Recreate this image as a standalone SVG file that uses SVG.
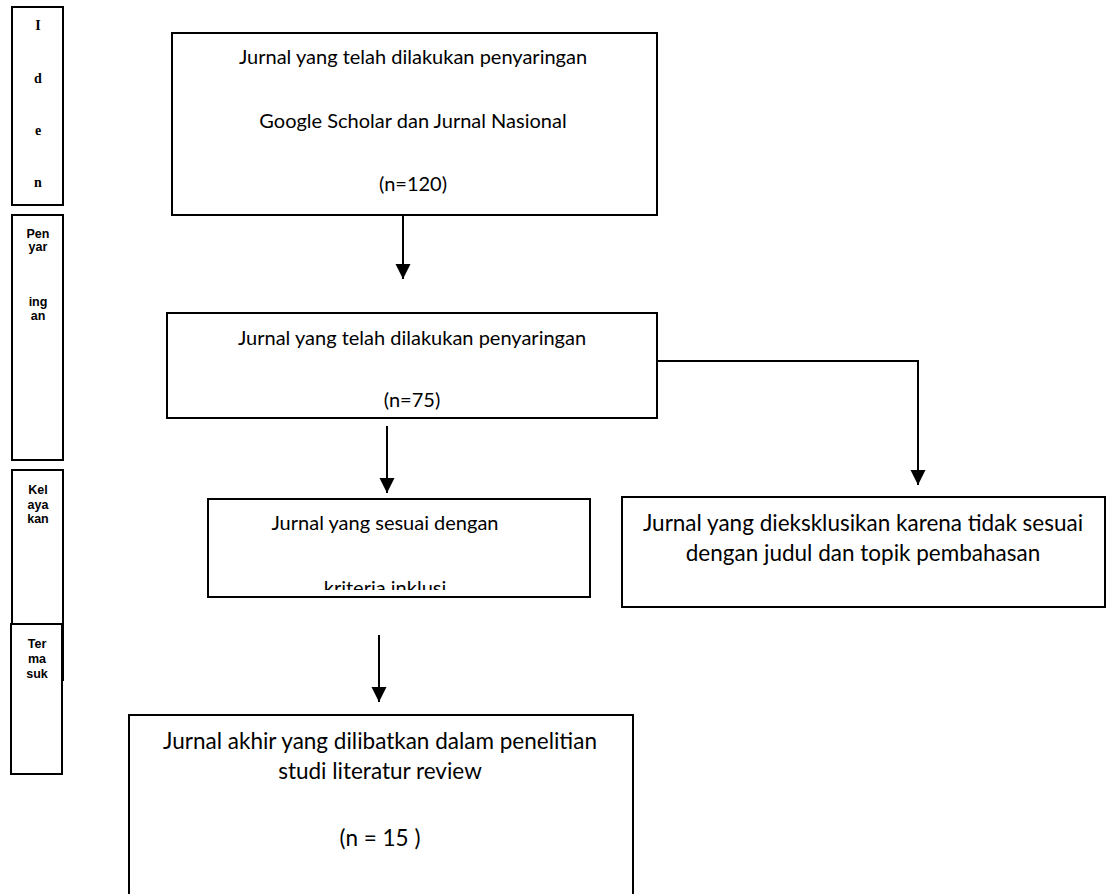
<svg xmlns="http://www.w3.org/2000/svg" width="1111" height="894" viewBox="0 0 1111 894">
<style>
.box{fill:#fff;stroke:#000;stroke-width:2}
.t{font-family:Lato,"Open Sans",sans-serif;font-size:20px;fill:#000;text-anchor:middle}
.t2{font-family:Lato,"Open Sans",sans-serif;font-size:22.5px;fill:#000;text-anchor:middle}
.side{font-family:"Liberation Serif",serif;font-weight:bold;font-size:14px;text-anchor:middle}
.sides{font-family:"Liberation Sans",Arial,sans-serif;font-weight:bold;font-size:12.5px;text-anchor:middle}
.ln{fill:none;stroke:#000;stroke-width:2}
</style>
<defs>
<marker id="ah" viewBox="0 0 10 10" refX="10" refY="5" markerWidth="7.5" markerHeight="8" markerUnits="strokeWidth" orient="auto">
<path d="M0,0 L10,5 L0,10 Z" fill="#000"/>
</marker>
<clipPath id="c3"><rect x="208" y="499" width="382" height="91"/></clipPath>
</defs>
<g id="side-iden">
<rect class="box" x="12" y="7" width="51" height="198"/>
<text class="side" x="38" y="30">I</text>
<text class="side" x="38" y="83">d</text>
<text class="side" x="38" y="135">e</text>
<text class="side" x="38" y="187">n</text>
</g>
<g id="side-penyaringan">
<rect class="box" x="12" y="215" width="51" height="245"/>
<text class="sides" x="38" y="238">Pen</text>
<text class="sides" x="38" y="251">yar</text>
<text class="sides" x="38" y="306">ing</text>
<text class="sides" x="38" y="320">an</text>
</g>
<g id="side-kelayakan">
<rect class="box" x="12" y="470" width="51" height="210"/>
<text class="sides" x="38" y="494">Kel</text>
<text class="sides" x="38" y="509">aya</text>
<text class="sides" x="38" y="523">kan</text>
</g>
<g id="side-termasuk">
<rect class="box" x="11" y="624" width="51" height="150"/>
<text class="sides" x="37" y="648">Ter</text>
<text class="sides" x="37" y="663">ma</text>
<text class="sides" x="37" y="678">suk</text>
</g>
<g id="connectors">
<line class="ln" x1="403" y1="215" x2="403" y2="279" marker-end="url(#ah)"/>
<line class="ln" x1="387" y1="426" x2="387" y2="493" marker-end="url(#ah)"/>
<polyline class="ln" points="653,361 918,361 918,485" marker-end="url(#ah)"/>
<line class="ln" x1="379" y1="635" x2="379" y2="702" marker-end="url(#ah)"/>
</g>
<g id="box1">
<rect class="box" x="172" y="33" width="485" height="182"/>
<text class="t" x="413" y="64">Jurnal yang telah dilakukan penyaringan</text>
<text class="t" x="413" y="128">Google Scholar dan Jurnal Nasional</text>
<text class="t" x="413" y="191">(n=120)</text>
</g>
<g id="box2">
<rect class="box" x="167" y="313" width="490" height="105"/>
<text class="t" x="412" y="345">Jurnal yang telah dilakukan penyaringan</text>
<text class="t" x="412" y="407">(n=75)</text>
</g>
<g id="box3">
<rect class="box" x="208" y="499" width="382" height="98"/>
<text class="t" x="385" y="530">Jurnal yang sesuai dengan</text>
<text class="t" x="385" y="595" clip-path="url(#c3)">kriteria inklusi</text>
</g>
<g id="box4">
<rect class="box" x="622" y="497" width="483" height="110"/>
<text class="t2" x="863" y="531">Jurnal yang dieksklusikan karena tidak sesuai</text>
<text class="t2" x="863" y="561">dengan judul dan topik pembahasan</text>
</g>
<g id="box5">
<rect class="box" x="129" y="715" width="504" height="190"/>
<text class="t2" x="380" y="749">Jurnal akhir yang dilibatkan dalam penelitian</text>
<text class="t2" x="380" y="779">studi literatur review</text>
<text class="t2" x="380" y="846">(n = 15 )</text>
</g>
</svg>
